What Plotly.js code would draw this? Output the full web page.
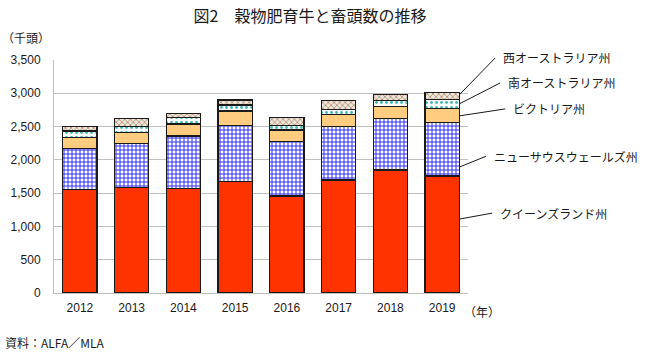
<!DOCTYPE html>
<html><head><meta charset="utf-8">
<script src="https://cdn.plot.ly/plotly-3.0.1.min.js"></script>
<style>html,body{margin:0;padding:0;background:#fff}#chart{width:650px;height:357px}</style>
</head><body><div id="chart"></div>
<script>
var years = ['2012','2013','2014','2015','2016','2017','2018','2019'];
var queensland = [1560, 1588, 1573, 1672, 1457, 1697, 1848, 1758];
var nsw        = [ 613,  661,  785,  841,  816,  801,  776,  800];
var victoria   = [ 166,  159,  181,  221,  176,  186,  175,  216];
var southAus   = [  95,   90,   95,   90,   64,   76,   90,  136];
var westAus    = [  64,  126,   65,   75,  121,  129,   96,  105];
var seriesNames = ['クイーンズランド州','ニューサウスウェールズ州','ビクトリア州','南オーストラリア州','西オーストラリア州'];
var labelY = [1110, 1890, 2660, 2840, 2975];

var JP = '"Noto Sans CJK JP", "Liberation Sans", sans-serif';
var NUM = '"Liberation Sans", Arial, sans-serif';
var line = {color:'#1a1a1a', width:1.3};

function bar(name, vals, marker){
  marker.line = line;
  return {type:'bar', name:name, x:years, y:vals, marker:marker, hoverinfo:'y'};
}
var traces = [
  bar(seriesNames[0], queensland, {color:'#FF3300'}),
  bar(seriesNames[1], nsw, {color:'#FFFFFF', pattern:{shape:'+', fgcolor:'#3030FF', bgcolor:'#FFFFFF', size:4, solidity:0.45}}),
  bar(seriesNames[2], victoria, {color:'#FFCC80'}),
  bar(seriesNames[3], southAus, {color:'#FFFFFF', pattern:{shape:'.', fgcolor:'#3FB5B5', bgcolor:'#FFFFFF', size:5, solidity:0.25}}),
  bar(seriesNames[4], westAus, {color:'#F1E6DA', pattern:{shape:'x', fgcolor:'#A88A70', bgcolor:'#F1E6DA', size:4, solidity:0.35}})
];

var offsets = [[33,-6],[27,-11],[46,-7],[41,-21],[36,-37]];
var anns = seriesNames.map(function(n,i){
  return {x:7.33, y:labelY[i], xref:'x', yref:'y', text:n, showarrow:true, arrowhead:0,
    arrowwidth:1, arrowcolor:'#1a1a1a', ax:offsets[i][0], ay:offsets[i][1],
    xanchor:'left', yanchor:'middle', borderpad:8, borderwidth:0,
    font:{family:JP, size:12, color:'#1a1a1a'}};
});
anns.push({xref:'paper', yref:'paper', x:-0.13, y:1.0987, xanchor:'left', yanchor:'middle',
  text:'（千頭）', showarrow:false, font:{family:JP, size:12, color:'#1a1a1a'}});
anns.push({xref:'paper', yref:'paper', x:(462-54)/414, y:(293-311.5)/233, xanchor:'left', yanchor:'middle',
  text:'（年）', showarrow:false, font:{family:JP, size:12, color:'#1a1a1a'}});
anns.push({xref:'paper', yref:'paper', x:(3-54)/414, y:(293-342.5)/233, xanchor:'left', yanchor:'middle',
  text:'資料：ALFA／MLA', showarrow:false, font:{family:JP, size:12, color:'#1a1a1a'}});

var layout = {
  width:650, height:357,
  margin:{l:54, r:182, t:60, b:64, pad:0},
  paper_bgcolor:'#fff', plot_bgcolor:'#fff',
  barmode:'stack', bargap:0.34, showlegend:false,
  title:{text:'図2　穀物肥育牛と畜頭数の推移', x:310/650, xref:'container', xanchor:'center',
    y:1-16/357, yref:'container', yanchor:'middle', font:{family:JP, size:16, color:'#1a1a1a'}},
  xaxis:{type:'category', range:[-0.5, 7.5], autorange:false, showline:true, linecolor:'#BFBFBF', linewidth:1, ticks:'',
    tickangle:0, ticklabelstandoff:4,
    tickfont:{family:NUM, size:12, color:'#1a1a1a'}, showgrid:false, fixedrange:true},
  yaxis:{range:[0,3500], autorange:false, dtick:500, tickformat:',d', showline:true, linecolor:'#BFBFBF', linewidth:1,
    gridcolor:'#C0C0C0', gridwidth:1, ticks:'', ticklabelstandoff:10,
    tickfont:{family:NUM, size:12, color:'#1a1a1a'}, zeroline:false, fixedrange:true},
  annotations:anns
};
Plotly.newPlot('chart', traces, layout, {displayModeBar:false, staticPlot:true});
</script></body></html>
